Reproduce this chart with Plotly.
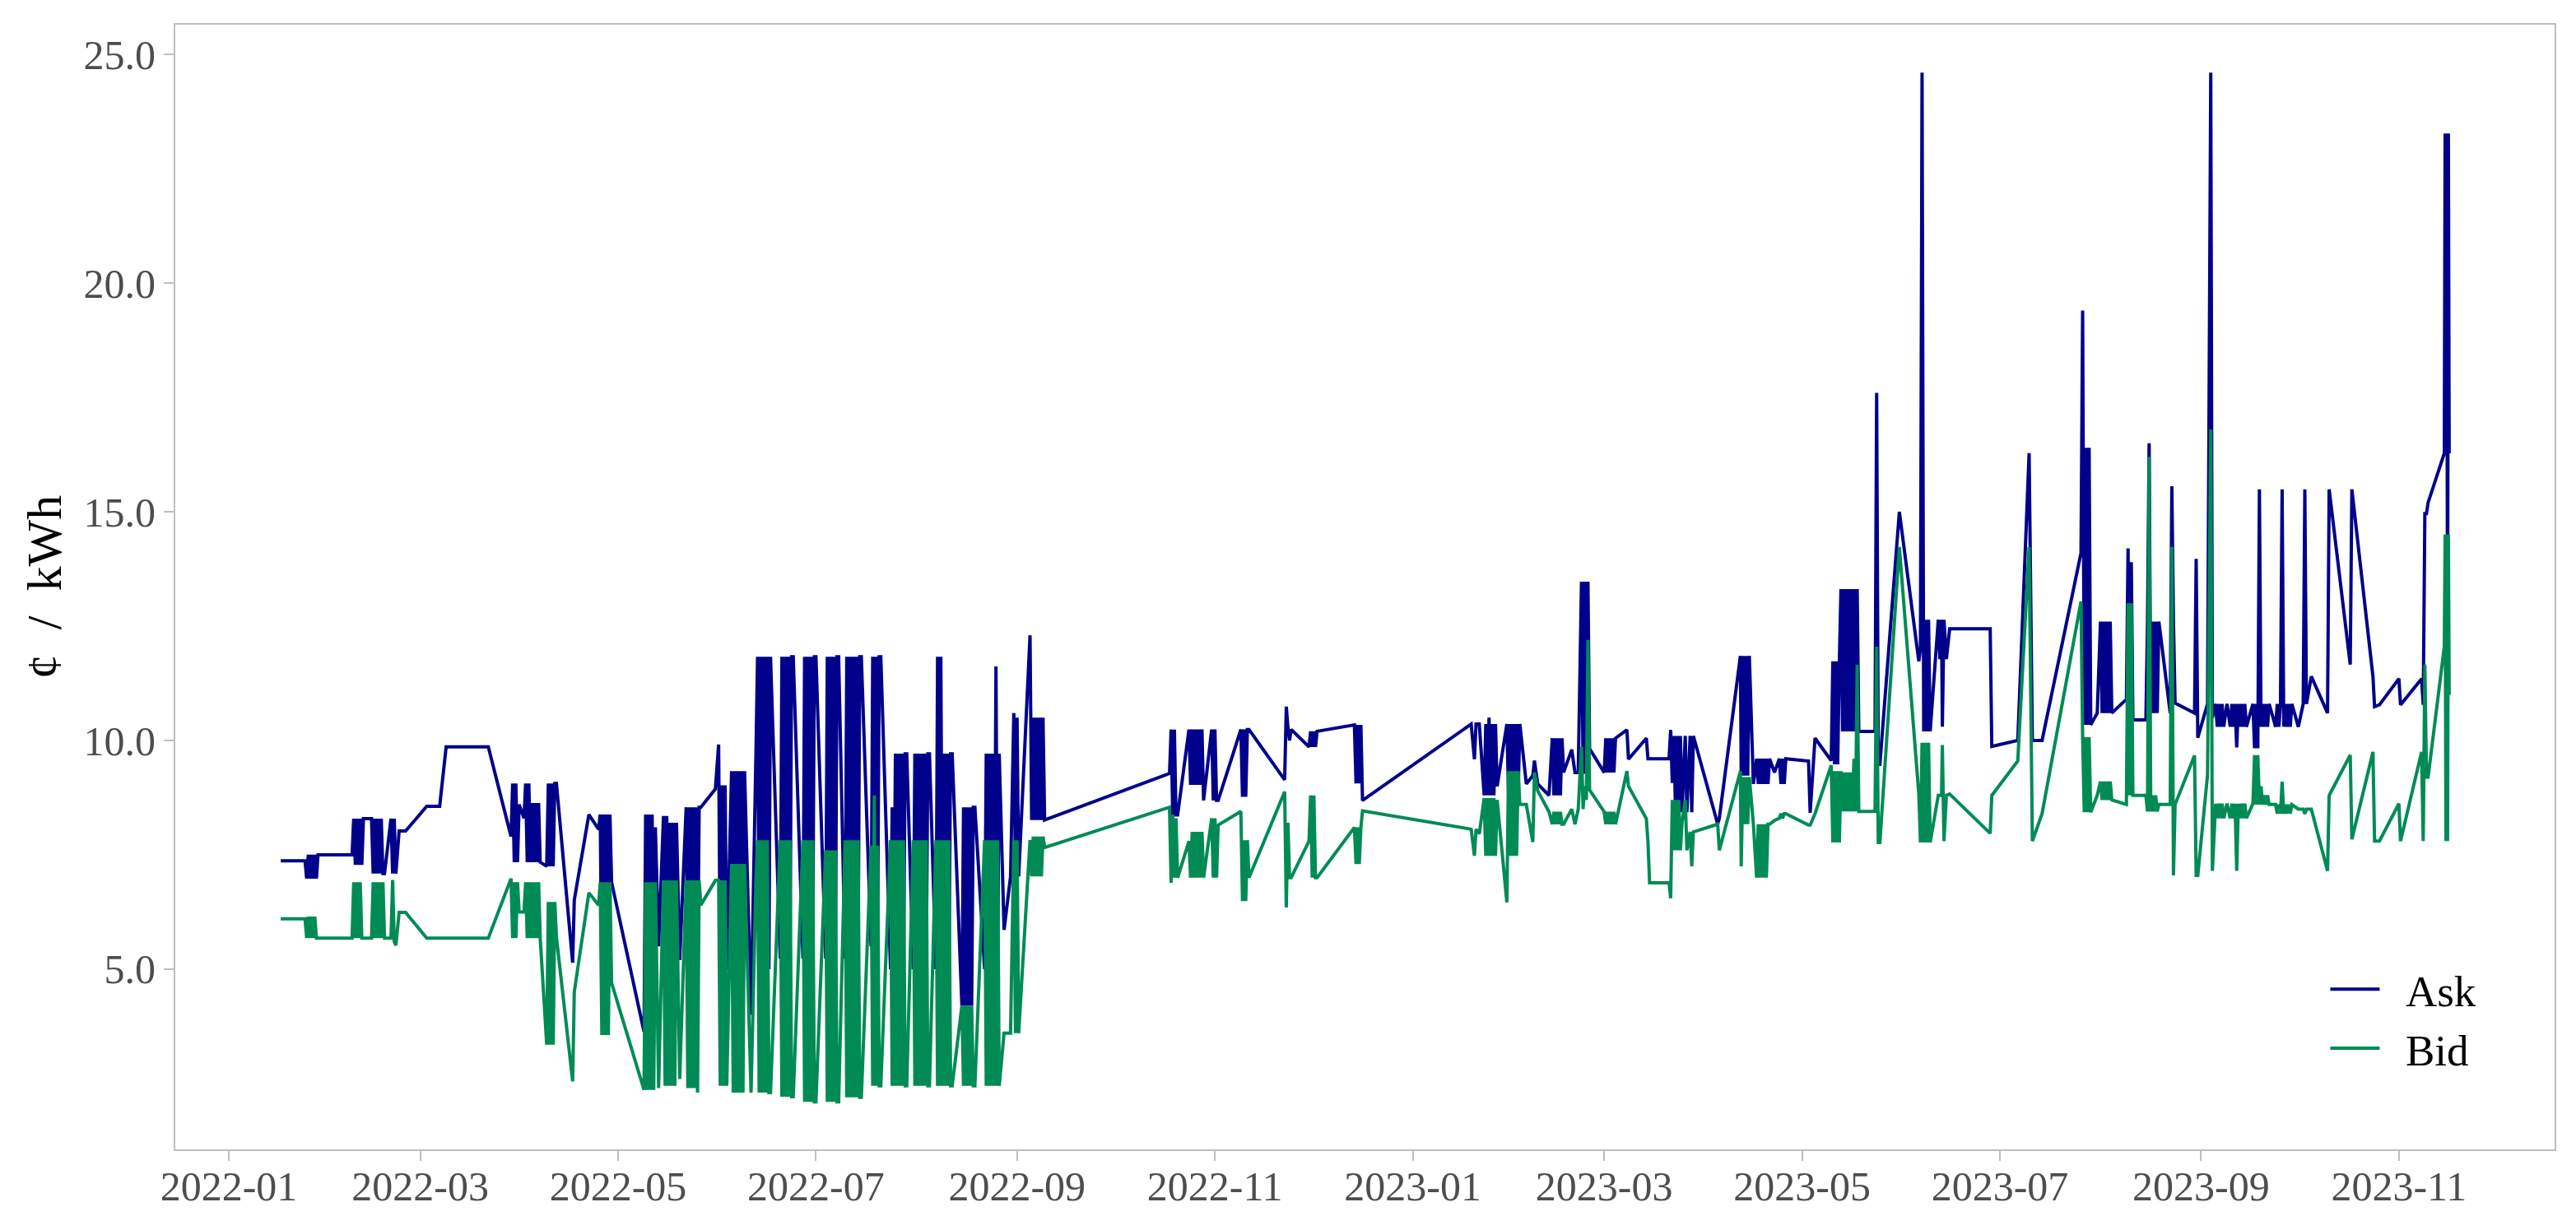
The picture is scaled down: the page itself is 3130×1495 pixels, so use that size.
import pandas as pd
import plotly.graph_objects as go

# ---- data: timestamps (YYYY-MM-DD HH), ask and bid prices in cents per kWh ----
dates = [
    # 2022
    "2022-01-17 00", "2022-01-24 12",
    "2022-01-25 00", "2022-01-25 12", "2022-01-26 00", "2022-01-26 12", "2022-01-27 00", "2022-01-27 12", "2022-01-28 00", "2022-01-28 12",
    "2022-02-08 00", "2022-02-08 12", "2022-02-09 00", "2022-02-09 12", "2022-02-10 00", "2022-02-10 12", "2022-02-11 00", "2022-02-11 12",
    "2022-02-14 00", "2022-02-14 12", "2022-02-15 00", "2022-02-15 12", "2022-02-16 00", "2022-02-16 12", "2022-02-17 00", "2022-02-17 12", "2022-02-18 00",
    "2022-02-20 00", "2022-02-20 12", "2022-02-21 00", "2022-02-21 12", "2022-02-22 12", "2022-02-24 12",
    "2022-03-03 00", "2022-03-07 00", "2022-03-09 00", "2022-03-22 00",
    "2022-03-29 00", "2022-03-29 12", "2022-03-30 00", "2022-03-30 12", "2022-03-31 00", "2022-03-31 12",
    "2022-04-02 00", "2022-04-02 12", "2022-04-03 00", "2022-04-03 12", "2022-04-04 00", "2022-04-04 12", "2022-04-05 00", "2022-04-05 12", "2022-04-06 00", "2022-04-06 12", "2022-04-07 00",
    "2022-04-09 00", "2022-04-09 12", "2022-04-10 00", "2022-04-10 12", "2022-04-11 00", "2022-04-11 12", "2022-04-12 00",
    "2022-04-17 00", "2022-04-17 12", "2022-04-22 00", "2022-04-25 00",
    "2022-04-25 12", "2022-04-26 00", "2022-04-26 12", "2022-04-27 00", "2022-04-27 12", "2022-04-28 00", "2022-04-28 12", "2022-04-29 00",
    "2022-05-09 00", "2022-05-09 12", "2022-05-10 00", "2022-05-10 12", "2022-05-11 00", "2022-05-11 12", "2022-05-12 00", "2022-05-12 12", "2022-05-13 12",
    "2022-05-15 00", "2022-05-15 12", "2022-05-16 00", "2022-05-16 12", "2022-05-17 00", "2022-05-17 12", "2022-05-18 00", "2022-05-18 12", "2022-05-19 00", "2022-05-20 00",
    "2022-05-22 00", "2022-05-22 12", "2022-05-23 00", "2022-05-23 12", "2022-05-24 00", "2022-05-24 12", "2022-05-25 00", "2022-05-25 12", "2022-05-26 00", "2022-05-26 12",
    "2022-05-31 00", "2022-06-01 00", "2022-06-01 12", "2022-06-02 00", "2022-06-02 12", "2022-06-03 00", "2022-06-03 12",
    "2022-06-05 00", "2022-06-05 12", "2022-06-06 00", "2022-06-06 12", "2022-06-07 00", "2022-06-07 12", "2022-06-08 00", "2022-06-08 12", "2022-06-09 00",
    "2022-06-11 00", "2022-06-12 12", "2022-06-13 00", "2022-06-13 12", "2022-06-14 00", "2022-06-14 12", "2022-06-15 00", "2022-06-15 12", "2022-06-16 00", "2022-06-16 12", "2022-06-17 00",
    "2022-06-20 00", "2022-06-20 12", "2022-06-21 00", "2022-06-21 12", "2022-06-22 00", "2022-06-22 12", "2022-06-23 00", "2022-06-23 12", "2022-06-24 00",
    "2022-06-27 00", "2022-06-27 12", "2022-06-28 00", "2022-06-28 12", "2022-06-29 00", "2022-06-29 12", "2022-06-30 00", "2022-06-30 12", "2022-07-01 00",
    "2022-07-04 00", "2022-07-04 12", "2022-07-05 00", "2022-07-05 12", "2022-07-06 00", "2022-07-06 12", "2022-07-07 00", "2022-07-07 12", "2022-07-08 00",
    "2022-07-10 00", "2022-07-10 12", "2022-07-11 00", "2022-07-11 12", "2022-07-12 00", "2022-07-12 12", "2022-07-13 00", "2022-07-13 12", "2022-07-14 00", "2022-07-14 12", "2022-07-15 00",
    "2022-07-18 00", "2022-07-18 12", "2022-07-19 00", "2022-07-19 12", "2022-07-20 00", "2022-07-20 12", "2022-07-21 00",
    "2022-07-24 00", "2022-07-24 12", "2022-07-25 00", "2022-07-25 12", "2022-07-26 00", "2022-07-26 12", "2022-07-27 00", "2022-07-27 12", "2022-07-28 00", "2022-07-28 12", "2022-07-29 00",
    "2022-07-31 00", "2022-07-31 12", "2022-08-01 00", "2022-08-01 12", "2022-08-02 00", "2022-08-02 12", "2022-08-03 00", "2022-08-03 12", "2022-08-04 00", "2022-08-04 12", "2022-08-05 00",
    "2022-08-07 00", "2022-08-07 12", "2022-08-08 00", "2022-08-08 12", "2022-08-09 00", "2022-08-09 12", "2022-08-10 00", "2022-08-10 12", "2022-08-11 00", "2022-08-11 12", "2022-08-12 00",
    "2022-08-15 00", "2022-08-15 12", "2022-08-16 00", "2022-08-16 12", "2022-08-17 00", "2022-08-17 12", "2022-08-18 00", "2022-08-18 12", "2022-08-19 00",
    "2022-08-22 00", "2022-08-22 12", "2022-08-23 00", "2022-08-23 12", "2022-08-24 00", "2022-08-24 12", "2022-08-25 00", "2022-08-25 12", "2022-08-26 00", "2022-08-26 12",
    "2022-08-28 00", "2022-08-30 00", "2022-08-31 00", "2022-08-31 12", "2022-09-01 00", "2022-09-01 12",
    "2022-09-05 00", "2022-09-05 12", "2022-09-06 00", "2022-09-06 12", "2022-09-07 00", "2022-09-07 12", "2022-09-08 00", "2022-09-08 12", "2022-09-09 00", "2022-09-09 12",
    "2022-10-18 00", "2022-10-18 12", "2022-10-19 00", "2022-10-19 12", "2022-10-20 00", "2022-10-20 12",
    "2022-10-24 00", "2022-10-24 12", "2022-10-25 00", "2022-10-25 12", "2022-10-26 00", "2022-10-26 12", "2022-10-27 00", "2022-10-27 12", "2022-10-28 00", "2022-10-28 12",
    "2022-10-31 00", "2022-10-31 12", "2022-11-01 00", "2022-11-01 12", "2022-11-02 00",
    "2022-11-09 00", "2022-11-09 12", "2022-11-10 00", "2022-11-10 12", "2022-11-11 00", "2022-11-11 12",
    "2022-11-22 12", "2022-11-23 00", "2022-11-23 12", "2022-11-24 00", "2022-11-24 12",
    "2022-11-30 00", "2022-11-30 12", "2022-12-01 00", "2022-12-01 12", "2022-12-02 00", "2022-12-02 12",
    "2022-12-14 00", "2022-12-14 12", "2022-12-15 00", "2022-12-15 12", "2022-12-16 00", "2022-12-16 12",
    # 2023
    "2023-01-19 00", "2023-01-20 00", "2023-01-20 12", "2023-01-21 12",
    "2023-01-23 00", "2023-01-23 12", "2023-01-24 00", "2023-01-24 12", "2023-01-25 00", "2023-01-25 12", "2023-01-26 00", "2023-01-26 12", "2023-01-27 00",
    "2023-01-30 00", "2023-01-30 12", "2023-01-31 00", "2023-01-31 12", "2023-02-01 00", "2023-02-01 12", "2023-02-02 00", "2023-02-02 12", "2023-02-03 00",
    "2023-02-05 00", "2023-02-07 00", "2023-02-07 12", "2023-02-08 12", "2023-02-12 00",
    "2023-02-13 00", "2023-02-13 12", "2023-02-14 00", "2023-02-14 12", "2023-02-15 00", "2023-02-15 12", "2023-02-16 00", "2023-02-16 12",
    "2023-02-19 00", "2023-02-20 00", "2023-02-21 00", "2023-02-22 00", "2023-02-22 12", "2023-02-23 00", "2023-02-23 12", "2023-02-24 00", "2023-02-24 12",
    "2023-03-01 00", "2023-03-01 12", "2023-03-02 00", "2023-03-02 12", "2023-03-03 00", "2023-03-03 12", "2023-03-04 00", "2023-03-04 12",
    "2023-03-08 00", "2023-03-08 12", "2023-03-14 00", "2023-03-14 12", "2023-03-15 00", "2023-03-21 00", "2023-03-21 12", "2023-03-22 00",
    "2023-03-22 12", "2023-03-23 00", "2023-03-23 12", "2023-03-24 00", "2023-03-24 12", "2023-03-25 00", "2023-03-26 00", "2023-03-26 12", "2023-03-27 12", "2023-03-28 00", "2023-03-28 12",
    "2023-04-05 00", "2023-04-05 12", "2023-04-12 00", "2023-04-12 06", "2023-04-12 18", "2023-04-13 06", "2023-04-13 18", "2023-04-14 06", "2023-04-14 18", "2023-04-16 00",
    "2023-04-17 00", "2023-04-17 12", "2023-04-18 00", "2023-04-18 12", "2023-04-19 00", "2023-04-19 12", "2023-04-20 00", "2023-04-20 12", "2023-04-21 00", "2023-04-22 12",
    "2023-04-24 00", "2023-04-24 12", "2023-04-25 00", "2023-04-25 12", "2023-04-26 00", "2023-05-03 00", "2023-05-03 12", "2023-05-05 00", "2023-05-10 00",
    "2023-05-10 12", "2023-05-11 00", "2023-05-11 12", "2023-05-12 00", "2023-05-12 12", "2023-05-13 00",
    "2023-05-13 12", "2023-05-14 00", "2023-05-14 12", "2023-05-15 00", "2023-05-15 12", "2023-05-16 00", "2023-05-16 12", "2023-05-17 00", "2023-05-17 12", "2023-05-18 00", "2023-05-18 12",
    "2023-05-23 12", "2023-05-24 00", "2023-05-24 12", "2023-05-25 00", "2023-05-31 00", "2023-06-06 00", "2023-06-06 12",
    "2023-06-07 00", "2023-06-07 12", "2023-06-08 00", "2023-06-08 12", "2023-06-09 00", "2023-06-09 12",
    "2023-06-12 00", "2023-06-12 12", "2023-06-13 00", "2023-06-13 06", "2023-06-13 18", "2023-06-14 12", "2023-06-15 12", "2023-06-28 00", "2023-06-28 12",
    "2023-07-06 12", "2023-07-10 00", "2023-07-11 00", "2023-07-14 00", "2023-07-26 00", "2023-07-26 12", "2023-07-27 00", "2023-07-27 12", "2023-07-28 00", "2023-07-28 12", "2023-07-29 00",
    "2023-07-31 00", "2023-08-01 00", "2023-08-01 12", "2023-08-02 00", "2023-08-02 12", "2023-08-03 00", "2023-08-03 12", "2023-08-04 00", "2023-08-04 12",
    "2023-08-09 00", "2023-08-09 12", "2023-08-10 00", "2023-08-10 12", "2023-08-11 00", "2023-08-15 00",
    "2023-08-15 12", "2023-08-16 00", "2023-08-16 12", "2023-08-17 00", "2023-08-17 12", "2023-08-18 00", "2023-08-18 12", "2023-08-19 00",
    "2023-08-22 12", "2023-08-23 00", "2023-08-23 12", "2023-08-24 00", "2023-08-30 00", "2023-08-30 12", "2023-08-31 00", "2023-09-03 00", "2023-09-04 00", "2023-09-04 12", "2023-09-05 12",
    "2023-09-06 00", "2023-09-06 12", "2023-09-07 00", "2023-09-07 12", "2023-09-08 00", "2023-09-09 00",
    "2023-09-10 00", "2023-09-10 12", "2023-09-11 00", "2023-09-11 12", "2023-09-12 00", "2023-09-12 12", "2023-09-13 00", "2023-09-13 12", "2023-09-14 00", "2023-09-14 12", "2023-09-15 00", "2023-09-17 00",
    "2023-09-17 12", "2023-09-18 00", "2023-09-18 12", "2023-09-19 00", "2023-09-19 12", "2023-09-20 00", "2023-09-20 12", "2023-09-21 00", "2023-09-21 12", "2023-09-22 00", "2023-09-24 00",
    "2023-09-24 12", "2023-09-25 00", "2023-09-25 12", "2023-09-26 00", "2023-09-26 12", "2023-09-27 00", "2023-09-27 12", "2023-09-28 00", "2023-09-28 12", "2023-09-29 00",
    "2023-10-01 00", "2023-10-02 12", "2023-10-03 00", "2023-10-03 12", "2023-10-05 00", "2023-10-10 00", "2023-10-10 12", "2023-10-17 00", "2023-10-17 12", "2023-10-24 00", "2023-10-24 12", "2023-10-26 00",
    "2023-11-01 00", "2023-11-01 12", "2023-11-08 00", "2023-11-08 12", "2023-11-09 00", "2023-11-09 12", "2023-11-10 00", "2023-11-15 00", "2023-11-15 06", "2023-11-15 12", "2023-11-15 18", "2023-11-16 00", "2023-11-16 06", "2023-11-16 12",
]

ask = [
    7.37, 7.37,
    6.98, 7.50, 6.98, 7.50, 6.98, 7.50, 6.98, 7.50,
    7.50, 8.29, 7.28, 8.29, 7.28, 8.29, 7.28, 8.29,
    8.29, 7.09, 8.29, 7.09, 8.29, 7.09, 8.29, 7.09, 7.09,
    8.29, 7.09, 8.29, 7.09, 8.02, 8.02,
    8.56, 8.56, 9.86, 9.86,
    7.90, 9.06, 7.34, 9.06, 7.34, 8.60,
    8.30, 9.06, 7.34, 9.06, 7.34, 8.63, 7.34, 8.63, 7.34, 8.63, 7.34,
    7.25, 9.06, 7.25, 9.06, 7.25, 9.06, 9.06,
    5.14, 6.51, 8.38, 8.06,
    8.38, 4.64, 8.38, 4.64, 8.38, 4.64, 8.38, 6.90,
    3.63, 8.38, 4.80, 8.38, 4.80, 8.38, 4.80, 8.10, 5.50,
    8.35, 4.70, 8.35, 4.70, 8.20, 4.70, 8.20, 4.70, 8.20, 5.20,
    8.54, 4.70, 8.54, 4.70, 8.54, 4.70, 8.54, 4.70, 8.54, 8.54,
    8.94, 9.91, 5.00, 9.02, 5.00, 9.02, 5.00,
    9.33, 5.40, 9.33, 5.40, 9.33, 5.40, 9.33, 5.40, 9.33,
    4.00, 9.71, 11.83, 5.00, 11.83, 5.00, 11.83, 5.00, 11.83, 5.00, 11.83,
    5.23, 11.83, 5.23, 11.83, 5.23, 11.83, 5.23, 11.83, 11.83,
    5.23, 11.83, 5.23, 11.83, 5.23, 11.83, 5.23, 11.83, 11.83,
    5.23, 11.83, 5.23, 11.83, 5.23, 11.83, 5.23, 11.83, 11.83,
    5.23, 11.83, 5.23, 11.83, 5.23, 11.83, 5.23, 11.83, 5.23, 11.83, 11.83,
    5.50, 11.83, 5.50, 11.83, 5.50, 11.83, 11.83,
    5.00, 8.54, 5.00, 9.71, 5.00, 9.71, 5.00, 9.71, 5.00, 9.71, 9.71,
    5.00, 9.71, 5.00, 9.71, 5.00, 9.71, 5.00, 9.71, 5.00, 9.71, 9.71,
    5.00, 11.83, 5.00, 11.83, 5.00, 9.71, 5.00, 9.71, 5.00, 9.71, 9.71,
    4.20, 8.54, 4.20, 8.54, 4.20, 8.54, 4.20, 8.54, 8.54,
    5.00, 9.71, 5.00, 9.71, 5.00, 9.71, 5.00, 11.62, 5.00, 9.71,
    5.86, 7.03, 10.60, 7.03, 10.50, 7.03,
    12.30, 8.26, 10.50, 8.26, 10.50, 8.26, 10.50, 8.26, 10.50, 8.26,
    9.28, 10.24, 8.37, 10.24, 8.37, 8.37,
    10.24, 9.03, 10.24, 9.03, 10.24, 9.03, 10.24, 9.03, 10.24, 8.69,
    10.24, 8.69, 10.24, 8.69, 8.69,
    10.24, 8.77, 10.24, 8.77, 10.24, 10.24,
    9.14, 10.74, 10.30, 10.00, 10.24,
    9.86, 10.20, 9.86, 10.20, 9.86, 10.20,
    10.34, 9.06, 10.34, 9.06, 10.34, 8.69,
    # 2023
    10.36, 9.59, 10.36, 10.36,
    8.80, 10.36, 8.80, 10.50, 8.80, 10.36, 8.80, 10.36, 9.00,
    10.36, 8.88, 10.36, 8.88, 10.36, 8.88, 10.36, 8.88, 10.36,
    9.05, 9.23, 9.56, 9.05, 8.80,
    10.05, 8.80, 10.05, 8.80, 10.05, 8.80, 10.05, 9.30,
    9.80, 9.30, 9.30, 13.47, 9.27, 13.47, 9.27, 13.47, 9.82,
    9.30, 10.05, 9.30, 10.05, 9.30, 10.05, 9.30, 10.05,
    10.23, 9.59, 10.05, 9.60, 9.60, 9.60, 10.23, 9.07,
    10.10, 8.43, 10.10, 8.43, 10.10, 8.43, 10.10, 8.43, 10.10, 8.43, 10.10,
    8.17, 8.30, 11.85, 9.23, 11.85, 9.23, 11.85, 9.23, 11.85, 9.05,
    9.60, 9.05, 9.60, 9.05, 9.60, 9.05, 9.60, 9.05, 9.60, 9.30,
    9.60, 9.05, 9.60, 9.05, 9.60, 9.55, 8.42, 10.05, 9.56,
    11.73, 9.48, 11.73, 9.48, 11.73, 13.31,
    10.20, 13.31, 10.20, 13.31, 10.20, 13.31, 10.20, 13.31, 10.20, 13.31, 10.20,
    10.20, 17.60, 9.48, 9.48, 15.00, 11.73, 12.00,
    24.60, 10.20, 12.64, 10.20, 12.64, 10.20,
    12.64, 11.78, 12.64, 10.30, 12.64, 11.78, 12.44, 12.44, 9.87,
    10.00, 16.28, 10.00, 10.00, 14.10, 19.40, 10.34, 16.40, 10.34, 16.40, 10.34,
    10.60, 12.60, 10.60, 12.60, 10.60, 12.60, 10.60, 12.60, 10.60,
    10.90, 14.20, 10.90, 13.90, 10.45, 10.45,
    12.60, 16.50, 10.60, 12.60, 10.60, 12.60, 10.60, 12.60,
    10.60, 15.56, 12.60, 10.82, 10.60, 13.97, 10.06, 10.80, 24.60, 10.50, 10.80,
    10.30, 10.80, 10.30, 10.80, 10.30, 10.80,
    10.30, 10.80, 10.30, 10.80, 9.85, 10.80, 10.30, 10.80, 10.30, 10.80, 10.30, 10.80,
    9.83, 10.80, 9.83, 15.49, 10.30, 10.80, 10.30, 10.80, 10.30, 10.80, 10.30,
    10.80, 10.30, 10.80, 15.49, 10.30, 10.80, 10.30, 10.80, 10.30, 10.80,
    10.30, 10.80, 15.49, 10.80, 11.40, 10.60, 15.49, 11.66, 15.49, 11.40, 10.74, 10.78,
    11.35, 10.78, 11.35, 10.78, 14.96, 14.96, 15.20, 16.28, 23.27, 16.28, 23.27, 11.20, 23.27, 16.28,
]

bid = [
    6.10, 6.10,
    5.68, 6.15, 5.68, 6.15, 5.68, 6.15, 5.68, 5.68,
    5.68, 6.90, 5.68, 6.90, 5.68, 6.90, 5.68, 5.68,
    5.68, 6.90, 5.68, 6.90, 5.68, 6.90, 5.68, 6.90, 5.68,
    5.68, 6.95, 5.60, 5.52, 6.24, 6.24,
    5.68, 5.68, 5.68, 5.68,
    6.98, 5.68, 6.90, 5.68, 6.90, 6.25,
    6.25, 6.90, 5.68, 6.90, 5.68, 6.90, 5.68, 6.90, 5.68, 6.90, 5.68,
    3.35, 6.47, 3.35, 6.47, 3.35, 6.47, 5.70,
    2.55, 4.50, 6.67, 6.40,
    6.90, 3.56, 6.90, 3.56, 6.90, 3.56, 6.90, 4.70,
    2.36, 6.90, 2.36, 6.90, 2.36, 6.90, 2.36, 6.90, 2.40,
    6.94, 2.45, 6.94, 2.45, 6.94, 2.45, 6.94, 2.45, 6.94, 2.60,
    6.94, 2.40, 6.94, 2.40, 6.94, 2.40, 6.94, 2.30, 6.94, 6.40,
    6.94, 6.94, 2.45, 6.94, 2.45, 6.94, 2.45,
    7.30, 2.30, 7.30, 2.30, 7.30, 2.30, 7.30, 2.30, 7.30,
    2.30, 6.94, 7.82, 2.30, 7.82, 2.30, 7.82, 2.30, 7.82, 2.30, 2.30,
    7.82, 2.21, 7.82, 2.21, 7.82, 2.21, 7.82, 2.21, 2.21,
    7.82, 2.10, 7.82, 2.10, 7.82, 2.10, 7.82, 2.10, 2.10,
    7.60, 2.10, 7.60, 2.10, 7.60, 2.10, 7.60, 2.10, 2.10,
    7.82, 2.20, 7.82, 2.20, 7.82, 2.20, 7.82, 2.20, 7.82, 2.20, 2.20,
    7.70, 2.45, 8.80, 2.45, 7.70, 2.45, 2.45,
    7.82, 2.45, 7.82, 2.45, 7.82, 2.45, 7.82, 2.45, 7.82, 2.45, 2.45,
    7.82, 2.45, 7.82, 2.45, 7.82, 2.45, 7.82, 2.45, 7.82, 2.45, 2.45,
    7.82, 2.45, 7.82, 2.45, 7.82, 2.45, 7.82, 2.45, 7.82, 2.45, 2.45,
    4.20, 2.45, 4.20, 2.45, 4.20, 2.45, 4.20, 2.45, 2.45,
    7.82, 2.45, 7.82, 2.45, 7.82, 2.45, 7.82, 2.45, 7.82, 2.45,
    3.60, 3.60, 7.82, 3.60, 7.82, 3.60,
    7.82, 7.03, 7.90, 7.03, 7.90, 7.03, 7.90, 7.03, 7.90, 7.66,
    8.54, 6.89, 8.37, 7.00, 8.30, 7.00,
    7.80, 7.00, 8.00, 7.00, 8.00, 7.00, 8.00, 7.00, 8.00, 7.00,
    8.30, 7.00, 8.30, 7.00, 8.15,
    8.45, 6.49, 7.82, 6.49, 7.82, 7.00,
    8.88, 6.35, 8.20, 7.00, 7.00,
    7.80, 8.80, 7.00, 8.80, 7.00, 7.00,
    8.10, 7.30, 8.10, 7.30, 8.10, 8.46,
    # 2023
    8.06, 7.48, 8.06, 7.96,
    8.74, 7.48, 8.74, 7.48, 8.74, 7.48, 8.74, 7.48, 8.70,
    6.46, 9.33, 7.48, 9.33, 7.48, 9.33, 7.48, 9.33, 8.60,
    8.60, 7.78, 9.30, 8.90, 8.44,
    8.17, 8.44, 8.17, 8.44, 8.17, 8.44, 8.17, 8.17,
    8.50, 8.17, 8.50, 9.86, 8.50, 9.00, 8.70, 12.20, 8.92,
    8.44, 8.17, 8.44, 8.17, 8.44, 8.17, 8.44, 8.17,
    9.33, 9.00, 8.29, 7.78, 6.89, 6.89, 6.55, 8.70,
    7.60, 8.70, 7.60, 8.70, 7.60, 8.20, 8.70, 7.60, 8.00, 7.25, 8.00,
    8.17, 7.60, 9.33, 7.25, 9.20, 8.17, 9.20, 8.17, 9.20, 8.17,
    7.00, 8.17, 7.00, 8.17, 7.00, 8.17, 7.00, 8.17, 8.17, 8.25,
    8.30, 8.40, 8.30, 8.40, 8.40, 8.15, 8.15, 8.40, 9.46,
    7.77, 9.33, 7.77, 9.33, 7.77, 9.33,
    8.45, 9.30, 8.45, 9.30, 8.45, 9.30, 8.45, 9.60, 8.45, 11.66, 8.45,
    8.45, 12.05, 7.77, 7.77, 14.23, 8.83, 7.77,
    9.95, 7.77, 9.95, 7.77, 9.95, 7.77,
    8.80, 8.80, 8.80, 9.90, 7.80, 8.80, 8.83, 7.97, 8.80,
    9.55, 14.23, 7.80, 8.40, 13.04, 10.07, 8.43, 10.07, 8.43, 10.07, 8.43,
    8.80, 9.10, 8.70, 9.10, 8.70, 9.10, 8.70, 9.10, 8.70,
    8.60, 13.00, 8.80, 13.00, 8.80, 8.80,
    8.45, 16.20, 8.45, 8.80, 8.45, 8.80, 8.45, 8.60,
    8.60, 14.23, 7.05, 8.60, 9.67, 7.05, 7.05, 9.24, 16.80, 7.15, 8.62,
    8.30, 8.62, 8.30, 8.62, 8.30, 8.62,
    8.30, 8.62, 8.30, 8.62, 7.15, 8.62, 8.30, 8.62, 8.30, 8.62, 8.30, 8.62,
    9.68, 8.60, 9.68, 8.60, 9.00, 8.60, 8.80, 8.60, 8.80, 8.60, 8.60,
    8.40, 8.60, 8.40, 9.10, 8.40, 8.60, 8.40, 8.60, 8.40, 8.60,
    8.50, 8.50, 8.40, 8.50, 8.50, 7.15, 8.80, 9.68, 7.84, 9.75, 7.80, 7.80,
    8.62, 7.80, 9.75, 7.80, 11.66, 9.20, 9.20, 12.05, 14.50, 7.80, 14.50, 7.80, 14.50, 11.00,
]

series_names = ["Ask", "Bid"]
series_colors = ["#00008B", "#008B55"]
y_ticks = [5.0, 10.0, 15.0, 20.0, 25.0]

assert len(dates) == len(ask) == len(bid), (len(dates), len(ask), len(bid))

t = pd.to_datetime(dates, format="%Y-%m-%d %H")

FONT = "Liberation Serif"
NBSP = "\u00a0"
fig = go.Figure()
for name, vals, col in zip(series_names, [ask, bid], series_colors):
    fig.add_trace(go.Scatter(x=t, y=vals, mode="lines", name=NBSP * 2 + name,
                             line=dict(color=col, width=4, simplify=False)))

axis_common = dict(
    showline=True, linecolor="#BEBEBE", linewidth=2, mirror=True,
    ticks="outside", ticklen=12, tickwidth=2, tickcolor="#BEBEBE",
    showgrid=False, zeroline=False,
    tickfont=dict(family=FONT, size=50, color="#4D4D4D"),
)

fig.update_layout(
    width=3130, height=1495,
    margin=dict(l=213, r=26, t=30, b=98),
    paper_bgcolor="white", plot_bgcolor="white",
    font=dict(family=FONT),
    showlegend=True,
    legend=dict(x=0.904, y=0.1725, xanchor="left", yanchor="top",
                bgcolor="rgba(0,0,0,0)", font=dict(family=FONT, size=53, color="black"),
                itemwidth=60),
    xaxis=dict(axis_common, range=["2021-12-15 12:00", "2023-12-19"],
               tick0="2022-01-01", dtick="M2", tickformat="%Y-%m",
               ticklabelstandoff=-12),
    yaxis=dict(axis_common, range=[1.06, 25.65], tickvals=y_ticks,
               tickformat=".1f",
               title=dict(text="¢  /  kWh", standoff=8,
                          font=dict(family=FONT, size=60, color="black"))),
)

fig.write_html("out.html", config={"displayModeBar": False},
               post_script="document.body.style.margin='0';")
